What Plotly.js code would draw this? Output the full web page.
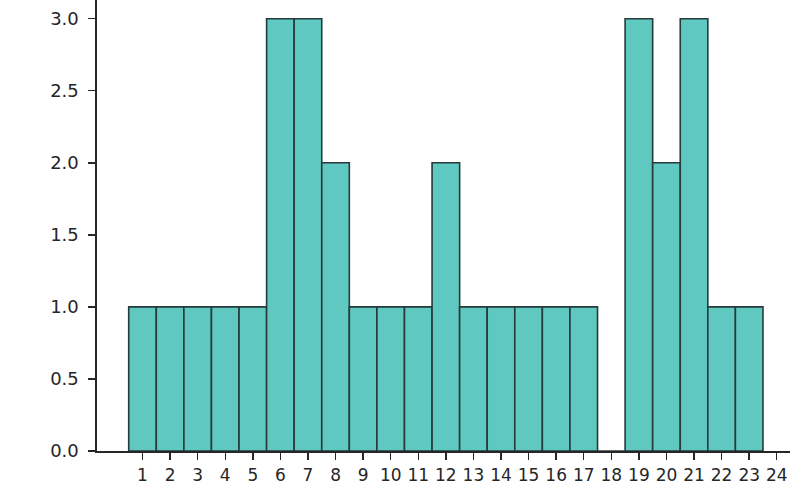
<!DOCTYPE html>
<html>
<head>
<meta charset="utf-8">
<script src="https://cdn.plot.ly/plotly-3.0.1.min.js"></script>
<style>html,body{margin:0;padding:0;background:#fff;}#chart{width:790px;height:498px;}</style>
</head>
<body>
<div id="chart"></div>
<script>
const categories = [1,2,3,4,5,6,7,8,9,10,11,12,13,14,15,16,17,18,19,20,21,22,23];
const counts = [1,1,1,1,1,3,3,2,1,1,1,2,1,1,1,1,1,0,3,2,3,1,1];
const tickValues = [1,2,3,4,5,6,7,8,9,10,11,12,13,14,15,16,17,18,19,20,21,22,23,24];
const yTicks = [0,0.5,1,1.5,2,2.5,3];

const trace = {
  type: 'bar',
  x: categories,
  y: counts,
  width: 1,
  marker: {color: '#5fc8c0', line: {color: '#263a3a', width: 1.6}},
  hoverinfo: 'x+y'
};

const layout = {
  width: 790, height: 498,
  margin: {l: 97, r: 0, t: 0, b: 47, pad: 0},
  paper_bgcolor: '#ffffff', plot_bgcolor: '#ffffff',
  bargap: 0,
  showlegend: false,
  font: {family: 'DejaVu Sans, sans-serif', size: 17, color: '#262626'},
  xaxis: {
    range: [-0.65, 24.48],
    tickmode: 'array', tickvals: tickValues, ticktext: tickValues.map(String),
    showgrid: false, zeroline: false,
    showline: true, linecolor: '#262626', linewidth: 1.6, mirror: false,
    ticks: 'outside', ticklen: 7, tickwidth: 1.4, tickcolor: '#262626',
    tickfont: {size: 17, color: '#262626'},
    ticklabelstandoff: 1
  },
  yaxis: {
    range: [0, 3.13],
    tickmode: 'array', tickvals: yTicks, ticktext: yTicks.map(v => v.toFixed(1)),
    showgrid: false, zeroline: false,
    showline: true, linecolor: '#262626', linewidth: 1.6, mirror: false,
    ticks: 'outside', ticklen: 7, tickwidth: 1.4, tickcolor: '#262626',
    tickfont: {size: 18, color: '#262626'},
    ticklabelstandoff: 6
  }
};

Plotly.newPlot('chart', [trace], layout, {displayModeBar: false, staticPlot: true});
</script>
</body>
</html>
